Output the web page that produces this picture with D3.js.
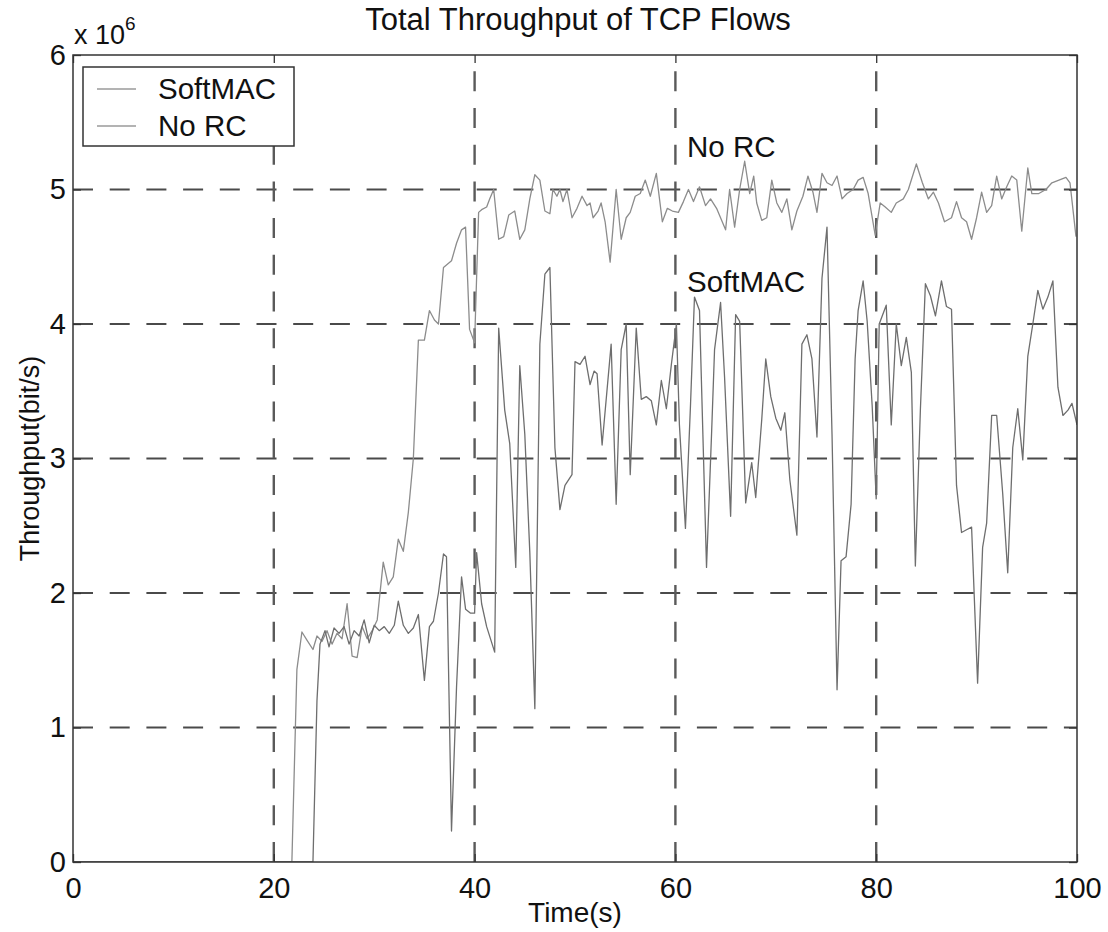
<!DOCTYPE html>
<html>
<head>
<meta charset="utf-8">
<script src="https://cdn.jsdelivr.net/npm/d3@7"></script>
<style>
  html, body { margin: 0; padding: 0; background: #fff; }
  svg { display: block; font-family: "Liberation Sans", Arial, sans-serif; }
</style>
</head>
<body>
<svg id="chart" width="1108" height="932"></svg>
<script>
// ---- data ----
const xTicks = [0, 20, 40, 60, 80, 100];
const yTicks = [0, 1, 2, 3, 4, 5, 6];
const yTickLabels = ["0", "1", "2", "3", "4", "5", "6"];
const seriesNames = ["SoftMAC", "No RC"];

// No RC: time (s) and throughput (x 10^6 bit/s)
const noRcTime = [0, 21.8, 22.3, 22.8, 23.3, 23.9, 24.3, 24.8, 25.3, 25.8, 26.3, 26.8, 27.3, 27.8, 28.3, 28.8, 29.3, 29.8, 30.3, 30.9, 31.4, 31.9, 32.4, 32.9, 33.4, 33.9, 34.4, 35.0, 35.5, 36.0, 36.4, 36.9, 37.7, 38.2, 38.7, 39.1, 39.5, 40.0,
  40.4, 40.7, 41.2, 41.5, 41.9, 42.4, 42.9, 43.4, 44.0, 44.5, 45.0, 45.5, 46.0, 46.5, 47.0, 47.5, 47.8, 48.2, 48.5, 48.8, 49.2, 49.7, 50.2, 50.7, 51.2, 51.5, 51.8, 52.3, 52.6, 53.0, 53.5, 54.1, 54.6, 55.1, 55.5, 56.0, 56.5, 57.0, 57.5, 58.1, 58.7, 59.2, 59.7, 60.3,
  60.8, 61.3, 61.8, 62.4, 63.0, 63.5, 64.1, 65.0, 65.4, 65.9, 66.4, 66.9, 67.4, 67.8, 68.1, 68.6, 69.1, 69.6, 70.1, 70.6, 71.1, 71.6, 72.1, 72.7, 73.2, 73.7, 74.1, 74.6, 75.1, 75.6, 76.1, 76.6, 77.1, 77.7, 78.2, 78.7, 79.2, 79.9,
  80.4, 80.9, 81.5, 82.0, 82.7, 83.2, 84.0, 84.6, 85.2, 85.7, 86.2, 86.8, 87.5, 88.0, 88.5, 89.0, 89.5, 90.0, 90.5, 91.0, 91.5, 92.0, 92.5, 93.0, 93.5, 94.0, 94.5, 95.1, 95.5, 96.2, 96.9, 97.5, 98.2, 98.9, 99.3, 99.9];
const noRcValue = [0, 0, 1.43, 1.71, 1.65, 1.58, 1.68, 1.64, 1.72, 1.62, 1.70, 1.66, 1.92, 1.53, 1.52, 1.75, 1.66, 1.72, 1.80, 2.23, 2.06, 2.12, 2.40, 2.31, 2.60, 3.00, 3.88, 3.88, 4.10, 4.03, 4.00, 4.42, 4.47, 4.60, 4.70, 4.72, 3.96, 3.86,
  4.83, 4.85, 4.87, 4.93, 5.00, 4.63, 4.65, 4.81, 4.84, 4.63, 4.70, 4.93, 5.11, 5.07, 4.84, 4.82, 5.00, 4.95, 5.00, 4.91, 5.00, 4.79, 4.86, 4.95, 4.88, 4.90, 4.79, 4.84, 4.90, 4.76, 4.46, 5.00, 4.63, 4.79, 4.83, 4.95, 4.97, 5.07, 4.95, 5.12, 4.76, 4.86, 4.84, 4.83,
  4.91, 5.00, 4.91, 5.02, 4.88, 4.93, 4.86, 4.70, 5.00, 4.72, 5.00, 5.21, 4.97, 5.10, 4.90, 4.77, 4.79, 5.07, 4.90, 4.83, 4.93, 4.70, 4.84, 4.95, 5.10, 4.98, 4.83, 5.12, 5.05, 5.03, 5.10, 4.93, 4.97, 5.00, 5.07, 5.09, 4.97, 4.66,
  4.90, 4.87, 4.83, 4.90, 4.93, 5.00, 5.19, 5.05, 4.93, 4.98, 4.90, 4.76, 4.79, 4.91, 4.79, 4.76, 4.63, 4.79, 4.98, 4.83, 4.88, 5.10, 4.93, 5.02, 5.10, 5.07, 4.69, 5.16, 4.97, 4.97, 5.00, 5.05, 5.07, 5.09, 5.05, 4.65];

// SoftMAC: time (s) and throughput (x 10^6 bit/s)
const softTime = [0, 23.9, 24.3, 24.6, 25.1, 25.5, 26.0, 26.5, 27.0, 27.5, 28.0, 28.5, 29.0, 29.5, 30.0, 30.5, 31.0, 31.5, 32.0, 32.4, 32.9, 33.4, 33.9, 34.4, 35.0, 35.5, 35.9, 36.4, 36.9, 37.2, 37.7, 38.2, 38.7, 39.1, 39.6, 40.0,
  40.2, 40.7, 41.2, 42.0, 42.4, 43.0, 43.5, 44.1, 44.5, 45.0, 45.5, 46.0, 46.5, 47.0, 47.5, 48.0, 48.5, 49.0, 49.7, 50.0, 50.5, 51.0, 51.5, 51.9, 52.2, 52.7, 53.6, 54.1, 54.6, 55.1, 55.5, 56.1, 56.6, 57.1, 57.6, 58.1, 58.6, 59.1, 59.6, 60.1,
  60.4, 61.0, 61.5, 61.9, 62.4, 63.1, 63.6, 63.9, 64.5, 64.9, 65.5, 66.0, 66.4, 67.0, 67.6, 68.0, 68.6, 69.0, 69.5, 70.0, 70.5, 70.9, 71.4, 72.1, 72.6, 73.1, 73.6, 74.1, 74.6, 75.1, 75.6, 76.1, 76.5, 77.0, 77.5, 77.9, 78.2, 78.7, 79.1, 79.6, 80.0,
  80.3, 81.0, 81.5, 82.0, 82.5, 83.0, 83.5, 83.9, 84.4, 84.9, 85.4, 85.9, 86.5, 87.0, 87.5, 88.0, 88.5, 89.0, 89.5, 90.1, 90.6, 91.0, 91.5, 92.0, 92.6, 93.1, 93.6, 94.1, 94.6, 95.1, 95.6, 96.1, 96.6, 97.1, 97.6, 98.1, 98.6, 99.1, 99.5, 100];
const softValue = [0, 0, 1.20, 1.62, 1.72, 1.60, 1.74, 1.70, 1.75, 1.62, 1.72, 1.68, 1.80, 1.63, 1.76, 1.72, 1.75, 1.70, 1.76, 1.94, 1.76, 1.70, 1.74, 1.84, 1.35, 1.75, 1.79, 2.00, 2.29, 2.27, 0.23, 1.30, 2.12, 1.88, 1.85, 1.85,
  2.30, 1.92, 1.75, 1.56, 3.97, 3.36, 3.11, 2.19, 3.69, 3.18, 2.30, 1.14, 3.85, 4.37, 4.42, 3.08, 2.62, 2.80, 2.88, 3.72, 3.70, 3.76, 3.55, 3.65, 3.63, 3.10, 3.85, 2.66, 3.81, 4.00, 2.88, 3.97, 3.44, 3.46, 3.43, 3.25, 3.58, 3.37, 3.70, 4.00,
  3.25, 2.48, 3.39, 4.20, 4.10, 2.19, 3.18, 3.81, 4.16, 3.60, 2.57, 4.07, 4.02, 2.67, 2.97, 2.71, 3.29, 3.74, 3.46, 3.30, 3.21, 3.34, 2.84, 2.43, 3.85, 3.92, 3.74, 3.16, 4.34, 4.72, 3.18, 1.28, 2.24, 2.27, 2.66, 3.74, 4.10, 4.32, 4.02, 3.39, 2.70,
  4.00, 4.14, 3.25, 4.00, 3.69, 3.90, 3.64, 2.20, 3.36, 4.30, 4.21, 4.06, 4.32, 4.13, 4.11, 2.80, 2.45, 2.47, 2.49, 1.33, 2.34, 2.52, 3.32, 3.32, 2.74, 2.15, 3.08, 3.37, 2.99, 3.76, 4.00, 4.25, 4.11, 4.20, 4.32, 3.53, 3.32, 3.36, 3.41, 3.25];

// ---- layout ----
const svg = d3.select("#chart");
const L = 73, R = 1077, T = 55, B = 862;
const x = d3.scaleLinear().domain([0, 100]).range([L, R]);
const y = d3.scaleLinear().domain([0, 6]).range([B, T]);

svg.append("defs").append("clipPath").attr("id", "clip")
  .append("rect").attr("x", L).attr("y", T).attr("width", R - L).attr("height", B - T);

// grid lines (dashed)
const grid = svg.append("g");
grid.selectAll("line.h").data(yTicks.slice(1, -1)).enter().append("line")
  .attr("x1", L).attr("x2", R).attr("y1", d => y(d)).attr("y2", d => y(d))
  .attr("stroke", "#4a4a4a").attr("stroke-width", 1.8).attr("stroke-dasharray", "20,16.7");
grid.selectAll("line.v").data(xTicks.slice(1, -1)).enter().append("line")
  .attr("y1", B).attr("y2", T).attr("x1", d => x(d)).attr("x2", d => x(d))
  .attr("stroke", "#5a5a5a").attr("stroke-width", 2.4).attr("stroke-dasharray", "20,16.7");

// series lines
const line = d3.line().x(d => x(d[0])).y(d => y(d[1]));
const noRc = noRcTime.map((t, i) => [t, noRcValue[i]]);
const soft = softTime.map((t, i) => [t, softValue[i]]);
const lines = svg.append("g").attr("clip-path", "url(#clip)");
lines.append("path").datum(noRc).attr("d", line)
  .attr("fill", "none").attr("stroke", "#8c8c8c").attr("stroke-width", 1.3).attr("stroke-linejoin", "round");
lines.append("path").datum(soft).attr("d", line)
  .attr("fill", "none").attr("stroke", "#6e6e6e").attr("stroke-width", 1.3).attr("stroke-linejoin", "round");

// axes box
svg.append("rect").attr("x", L).attr("y", T).attr("width", R - L).attr("height", B - T)
  .attr("fill", "none").attr("stroke", "#333").attr("stroke-width", 1.5);

// axes with inward ticks
const fontSize = 29;
svg.append("g").attr("transform", `translate(0,${B})`)
  .call(d3.axisBottom(x).tickValues(xTicks).tickSize(-8).tickPadding(15).tickFormat(d3.format("d")));
svg.append("g").attr("transform", `translate(${L},0)`)
  .call(d3.axisLeft(y).tickValues(yTicks).tickSize(-8).tickPadding(7).tickFormat((d, i) => yTickLabels[i]));
svg.append("g").attr("transform", `translate(${R},0)`)
  .call(d3.axisRight(y).tickValues(yTicks).tickSize(-8).tickFormat(""));
svg.append("g").attr("transform", `translate(0,${T})`)
  .call(d3.axisTop(x).tickValues(xTicks).tickSize(-8).tickFormat(""));
svg.selectAll(".domain").remove();
svg.selectAll(".tick line").attr("stroke", "#333").attr("stroke-width", 1.3);
svg.selectAll(".tick text").attr("font-size", fontSize).attr("fill", "#111")
  .attr("font-family", "Liberation Sans, Arial, sans-serif");

// exponent label
const ex = svg.append("text").attr("x", 74).attr("y", 44).attr("font-size", 27).attr("fill", "#111");
ex.append("tspan").text("x 10");
ex.append("tspan").attr("dy", -14).attr("font-size", 19).text("6");

// title & axis labels
svg.append("text").attr("x", 578).attr("y", 30).attr("text-anchor", "middle")
  .attr("font-size", 31).attr("fill", "#111").text("Total Throughput of TCP Flows");
svg.append("text").attr("x", 575).attr("y", 922).attr("text-anchor", "middle")
  .attr("font-size", 28).attr("fill", "#111").text("Time(s)");
svg.append("text").attr("transform", `translate(39,${(T + B) / 2}) rotate(-90)`)
  .attr("text-anchor", "middle").attr("font-size", 27).attr("fill", "#111").text("Throughput(bit/s)");

// annotations
svg.append("text").attr("x", 687).attr("y", 157).attr("font-size", 29.5).attr("fill", "#111").text("No RC");
svg.append("text").attr("x", 687).attr("y", 292).attr("font-size", 29.5).attr("fill", "#111").text("SoftMAC");

// legend
const lg = svg.append("g");
lg.append("rect").attr("x", 83).attr("y", 67).attr("width", 211).attr("height", 79)
  .attr("fill", "#fff").attr("stroke", "#333").attr("stroke-width", 1.5);
const legendColors = ["#9a9a9a", "#9a9a9a"];
seriesNames.forEach((name, i) => {
  const yy = 89 + i * 37;
  lg.append("line").attr("x1", 97).attr("x2", 136).attr("y1", yy).attr("y2", yy)
    .attr("stroke", legendColors[i]).attr("stroke-width", 1.3);
  lg.append("text").attr("x", 158).attr("y", yy + 10).attr("font-size", 29.5).attr("fill", "#111").text(name);
});
</script>
</body>
</html>
